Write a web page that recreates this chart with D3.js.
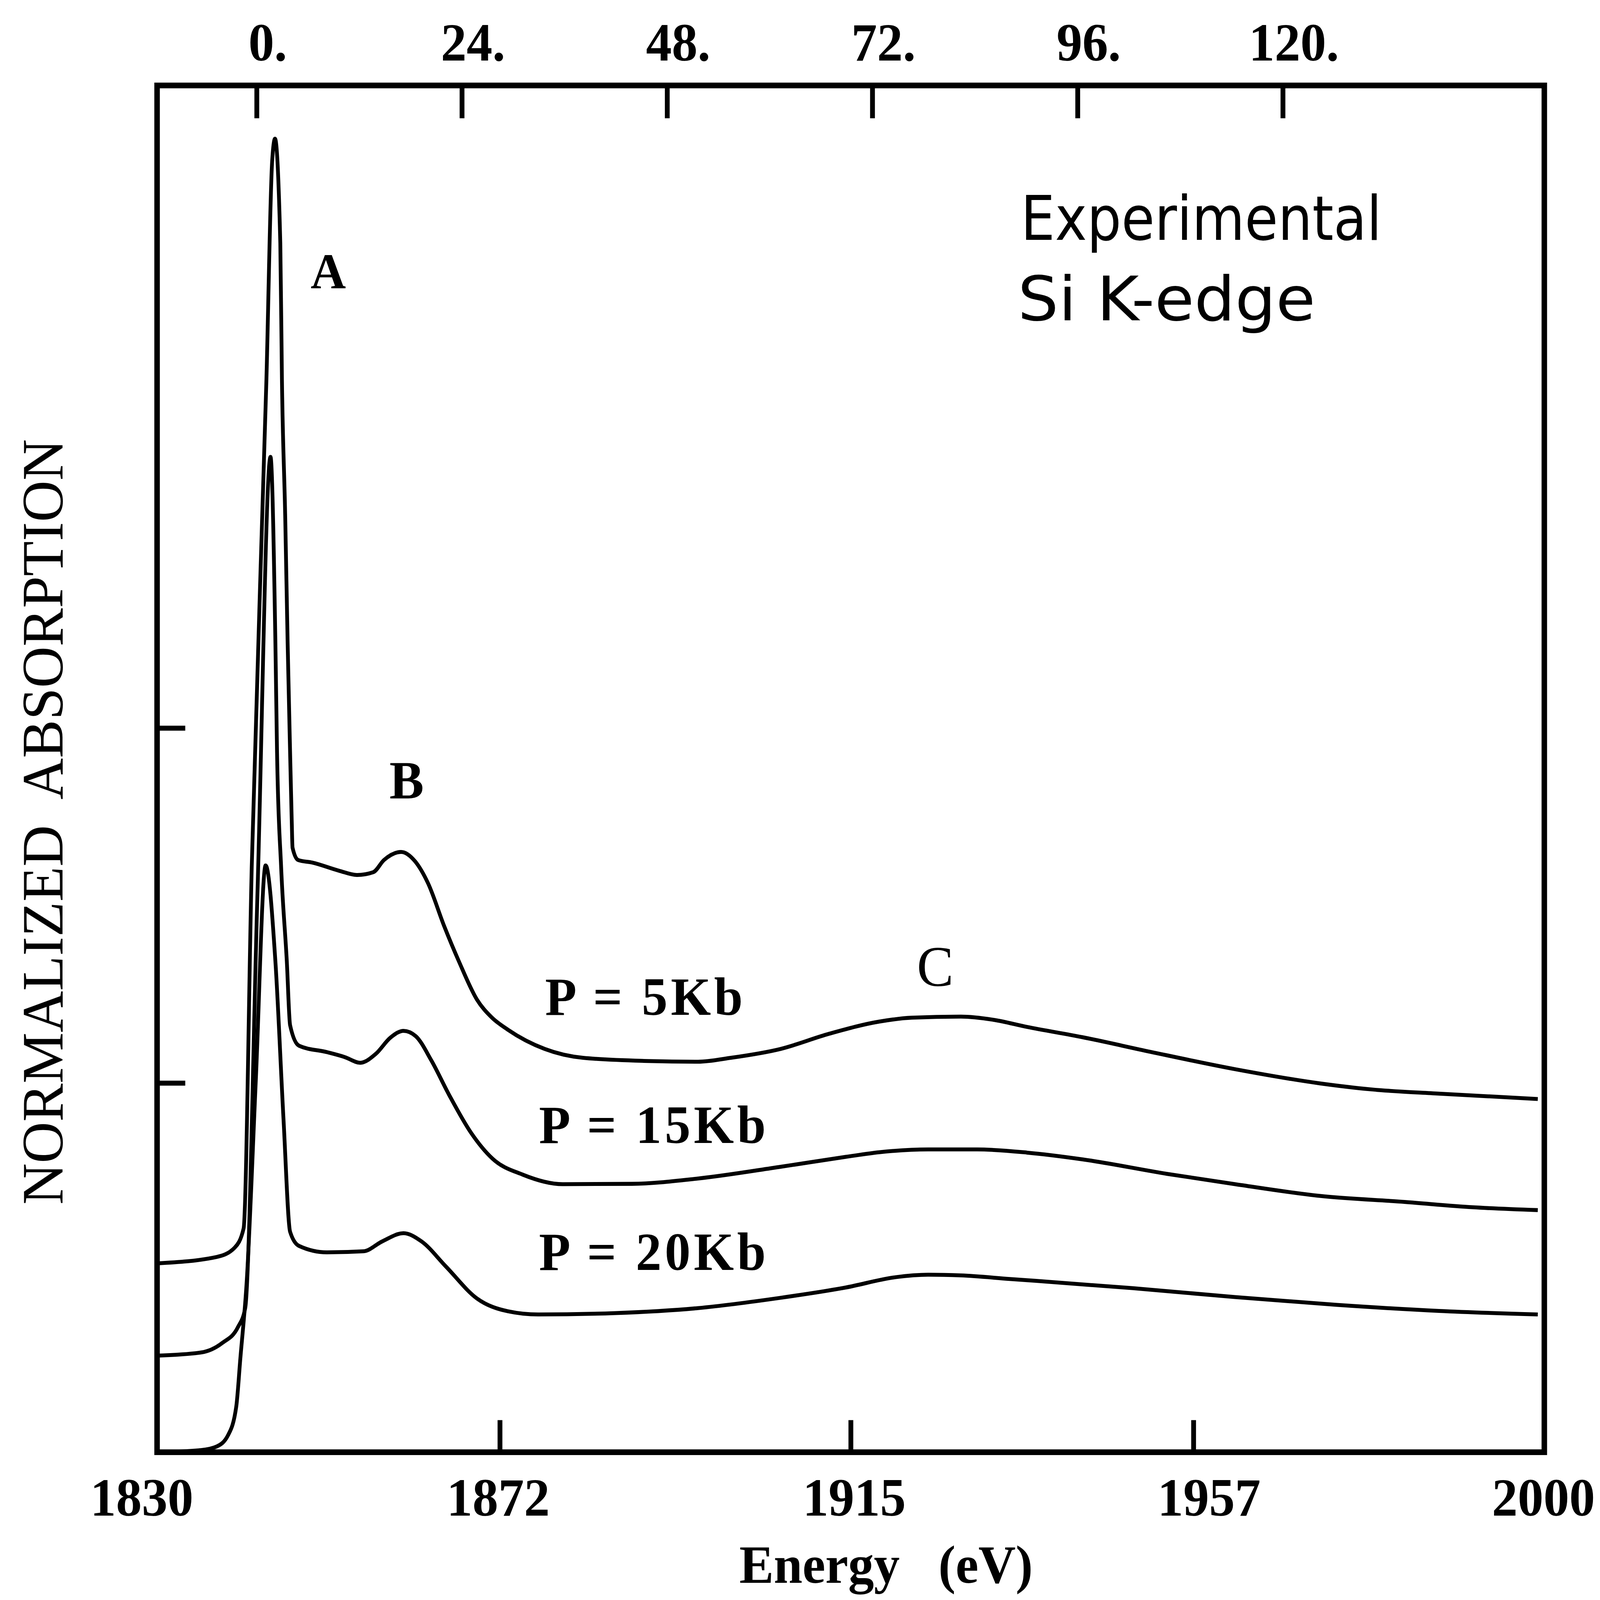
<!DOCTYPE html>
<html>
<head>
<meta charset="utf-8">
<script src="https://cdn.jsdelivr.net/npm/d3@7"></script>
<style>
  html, body { margin: 0; padding: 0; background: #fff; overflow: hidden; width: 100%; height: 100%; }
  svg { display: block; width: 100vw; height: 100vh; }
</style>
</head>
<body>
<svg id="chart" viewBox="0 0 4655 4493" preserveAspectRatio="none"></svg>
<script>
// ---------------- data ----------------
const energyTicks = [1830, 1872, 1915, 1957, 2000];
const relTicks = [0, 24, 48, 72, 96, 120];
const relTickLabels = ["0.", "24.", "48.", "72.", "96.", "120."];
const absTicks = [1, 2];
const topAxisEnergyAt0 = 1842.2;
const topAxisEnergyAt120 = 1967.95;

const energy5 = [1830.0, 1837.3, 1839.5, 1840.6, 1841.6, 1843.4, 1844.1, 1844.45, 1845.1, 1845.3, 1845.7, 1846.0, 1846.3, 1846.5, 1846.6, 1847.3, 1849.0, 1852.3, 1854.5, 1856.5, 1857.8, 1859.9, 1861.6, 1863.2, 1865.2, 1867.0, 1869.2, 1871.0, 1873.0, 1877.5, 1882.2, 1890.2, 1896.3, 1900.3, 1906.4, 1912.4, 1918.5, 1922.5, 1928.5, 1932.5, 1936.6, 1943.4, 1951.7, 1962.1, 1972.5, 1978.8, 1987.1, 1999.2];
const abs5 = [0.492, 0.510, 0.536, 0.590, 1.609, 2.982, 3.596, 3.660, 3.366, 2.982, 2.598, 2.239, 1.932, 1.740, 1.663, 1.628, 1.621, 1.598, 1.586, 1.594, 1.628, 1.651, 1.625, 1.563, 1.441, 1.342, 1.235, 1.185, 1.150, 1.096, 1.071, 1.062, 1.060, 1.071, 1.096, 1.139, 1.173, 1.184, 1.187, 1.178, 1.158, 1.129, 1.088, 1.039, 0.999, 0.982, 0.970, 0.955];

const energy15 = [1830.0, 1835.4, 1838.0, 1839.9, 1840.8, 1842.3, 1843.9, 1844.5, 1844.7, 1845.2, 1845.9, 1846.3, 1847.4, 1850.8, 1853.0, 1854.9, 1856.8, 1858.6, 1860.2, 1861.7, 1863.6, 1865.8, 1868.5, 1871.1, 1874.8, 1879.7, 1888.2, 1896.3, 1906.4, 1914.4, 1918.5, 1924.5, 1930.5, 1936.6, 1943.4, 1953.8, 1962.1, 1972.5, 1982.9, 1991.2, 1999.2];
const abs15 = [0.232, 0.241, 0.268, 0.312, 0.366, 1.533, 2.764, 2.239, 1.932, 1.609, 1.342, 1.163, 1.105, 1.087, 1.073, 1.057, 1.082, 1.128, 1.147, 1.132, 1.064, 0.966, 0.859, 0.787, 0.742, 0.715, 0.716, 0.731, 0.764, 0.792, 0.805, 0.813, 0.813, 0.804, 0.785, 0.744, 0.715, 0.682, 0.665, 0.650, 0.642];

const energy20 = [1830.0, 1835.4, 1837.3, 1838.7, 1839.7, 1840.2, 1841.0, 1842.1, 1843.3, 1844.5, 1845.5, 1846.3, 1847.4, 1850.8, 1855.3, 1857.6, 1860.2, 1862.4, 1865.4, 1869.2, 1873.0, 1876.7, 1886.2, 1896.3, 1906.4, 1914.4, 1920.5, 1924.5, 1928.5, 1934.5, 1949.6, 1962.1, 1974.6, 1987.1, 1999.2];
const abs20 = [-0.04, -0.034, -0.024, 0.008, 0.088, 0.223, 0.447, 1.008, 1.613, 1.342, 0.895, 0.581, 0.541, 0.523, 0.526, 0.554, 0.577, 0.554, 0.483, 0.393, 0.357, 0.348, 0.352, 0.366, 0.395, 0.424, 0.453, 0.460, 0.458, 0.448, 0.422, 0.397, 0.375, 0.358, 0.348];

const seriesNames = ["P = 5Kb", "P = 15Kb", "P = 20Kb"];
const peakLabels = ["A", "B", "C"];

// ---------------- layout ----------------
const svg = d3.select("#chart");
const plotLeft = 457, plotRight = 4493, plotTop = 240, plotBottom = 4078;

const x = d3.scaleLinear().domain([1830, 2000]).range([plotLeft, plotRight]);
const y = d3.scaleLinear().domain([-0.04, 3.81]).range([plotBottom, plotTop]);
const xTop = d3.scaleLinear().domain([0, 120]).range([x(topAxisEnergyAt0), x(topAxisEnergyAt120)]);

const serif = "'Liberation Serif', 'Times New Roman', serif";
const sans = "'DejaVu Sans', 'Liberation Sans', sans-serif";

// curves
const line = d3.line()
  .x(d => x(d[0]))
  .y(d => y(d[1]))
  .curve(d3.curveMonotoneX);

const series = [
  d3.zip(energy5, abs5),
  d3.zip(energy15, abs15),
  d3.zip(energy20, abs20)
];

svg.append("g").selectAll("path")
  .data(series)
  .join("path")
  .attr("d", line)
  .attr("fill", "none")
  .attr("stroke", "#000")
  .attr("stroke-width", 11)
  .attr("stroke-linejoin", "round");

// bottom axis
const bottomLabelShift = [-45, -5, 10, 45, -3];
const gB = svg.append("g").attr("transform", `translate(0,${plotBottom})`)
  .call(d3.axisBottom(x).tickValues(energyTicks).tickSize(-90).tickFormat(d3.format("d")));
gB.select(".domain").remove();
gB.selectAll(".tick line").attr("stroke", "#000").attr("stroke-width", 14);
gB.selectAll(".tick text")
  .attr("y", 178).attr("dy", 0)
  .attr("dx", (d, i) => bottomLabelShift[i])
  .attr("font-family", serif).attr("font-weight", "bold")
  .attr("font-size", 150).attr("fill", "#000");

// top axis
const gT = svg.append("g").attr("transform", `translate(0,${plotTop})`)
  .call(d3.axisTop(xTop).tickValues(relTicks).tickSize(-92).tickFormat((d, i) => relTickLabels[i]));
gT.select(".domain").remove();
gT.selectAll(".tick line").attr("stroke", "#000").attr("stroke-width", 14);
gT.selectAll(".tick text")
  .attr("y", -70).attr("dy", 0).attr("dx", 32)
  .attr("font-family", serif).attr("font-weight", "bold")
  .attr("font-size", 150).attr("fill", "#000");

// left axis (unlabeled ticks)
const gL = svg.append("g").attr("transform", `translate(${plotLeft},0)`)
  .call(d3.axisLeft(y).tickValues(absTicks).tickSize(-82).tickFormat(""));
gL.select(".domain").remove();
gL.selectAll(".tick line").attr("stroke", "#000").attr("stroke-width", 14);

// frame
svg.append("rect")
  .attr("x", plotLeft).attr("y", plotTop)
  .attr("width", plotRight - plotLeft).attr("height", plotBottom - plotTop)
  .attr("fill", "none").attr("stroke", "#000").attr("stroke-width", 16);

// axis titles
svg.append("text")
  .attr("x", 2578).attr("y", 4445)
  .attr("text-anchor", "middle")
  .attr("font-family", serif).attr("font-weight", "bold").attr("font-size", 150)
  .attr("xml:space", "preserve")
  .text("Energy   (eV)");

svg.append("text")
  .attr("transform", "translate(182,2308) rotate(-90)")
  .attr("text-anchor", "middle")
  .attr("font-family", serif).attr("font-size", 172)
  .attr("textLength", 2150).attr("lengthAdjust", "spacingAndGlyphs")
  .attr("xml:space", "preserve")
  .text("NORMALIZED  ABSORPTION");

// title block
svg.append("text")
  .attr("x", 2970).attr("y", 673)
  .attr("font-family", sans).attr("font-size", 172).attr("font-stretch", "condensed")
  .attr("textLength", 1050).attr("lengthAdjust", "spacingAndGlyphs")
  .text("Experimental");
svg.append("text")
  .attr("x", 2961).attr("y", 899)
  .attr("font-family", sans).attr("font-size", 172).attr("font-stretch", "condensed")
  .attr("textLength", 866).attr("lengthAdjust", "spacingAndGlyphs")
  .text("Si K-edge");

// peak labels
const peakPos = [[955, 809, "bold", 142], [1183, 2242, "bold", 150], [2721, 2769, "normal", 160]];
svg.append("g").selectAll("text")
  .data(peakLabels)
  .join("text")
  .attr("x", (d, i) => peakPos[i][0])
  .attr("y", (d, i) => peakPos[i][1])
  .attr("text-anchor", "middle")
  .attr("font-family", serif)
  .attr("font-weight", (d, i) => peakPos[i][2])
  .attr("font-size", (d, i) => peakPos[i][3])
  .text(d => d);

// series labels
const labelPos = [[1586, 2850, 575], [1568, 3210, 660], [1568, 3566, 660]];
svg.append("g").selectAll("text")
  .data(seriesNames)
  .join("text")
  .attr("x", (d, i) => labelPos[i][0])
  .attr("y", (d, i) => labelPos[i][1])
  .attr("textLength", (d, i) => labelPos[i][2])
  .attr("lengthAdjust", "spacing")
  .attr("font-family", serif).attr("font-weight", "bold").attr("font-size", 150)
  .text(d => d);
</script>
</body>
</html>
